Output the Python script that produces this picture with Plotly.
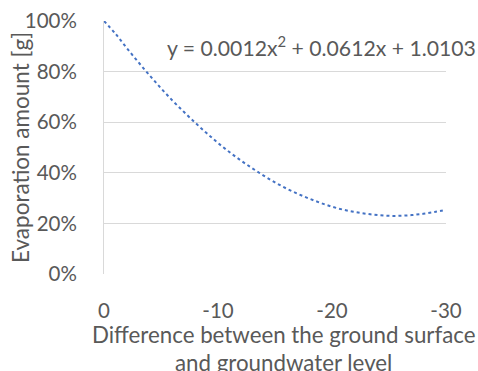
import plotly.graph_objects as go

# Trendline values (difference vs evaporation fraction)
diff = [0, -1, -2, -3, -4, -5, -6, -7, -8, -9, -10, -11, -12, -13, -14, -15,
        -16, -17, -18, -19, -20, -21, -22, -23, -24, -25, -26, -27, -28, -29, -30]
evap = [1.000, 0.950, 0.893, 0.838, 0.785, 0.734, 0.686, 0.641, 0.598, 0.557,
        0.518, 0.482, 0.449, 0.418, 0.389, 0.362, 0.338, 0.317, 0.298, 0.281,
        0.266, 0.254, 0.245, 0.238, 0.233, 0.230, 0.230, 0.233, 0.238, 0.245,
        0.254]
x_ticks = [0, -10, -20, -30]
y_ticks = [0, 0.2, 0.4, 0.6, 0.8, 1.0]
equation = "y = 0.0012x<sup>2</sup> + 0.0612x + 1.0103"
x_title_1 = "Difference between the ground surface"
x_title_2 = "and groundwater level"
y_title = "Evaporation amount [g]"

FONT = "Lato"
GREY = "#595959"

fig = go.Figure()
fig.add_trace(go.Scatter(
    x=diff, y=evap, mode="lines",
    line=dict(color="#4472C4", width=2, dash="dot", shape="spline"),
    showlegend=False, hoverinfo="skip",
))

fig.update_layout(
    width=478, height=371,
    margin=dict(l=104, r=32, t=21, b=97, autoexpand=False),
    paper_bgcolor="white", plot_bgcolor="white",
    font=dict(family=FONT, color=GREY, size=20),
    xaxis=dict(
        range=[0, -30], tickvals=x_ticks, ticktext=[str(v) for v in x_ticks],
        showgrid=False, zeroline=False, showline=False,
        ticks="outside", ticklen=18, tickcolor="rgba(0,0,0,0)",
        tickfont=dict(family=FONT, size=20.5, color=GREY),
    ),
    yaxis=dict(
        range=[0, 1.0], tickvals=y_ticks, tickformat=".0%",
        showgrid=True, gridcolor="#D9D9D9", gridwidth=1,
        zeroline=False, showline=True, linecolor="#D9D9D9", linewidth=1,
        ticks="outside", ticklen=22, tickcolor="rgba(0,0,0,0)",
        tickfont=dict(family=FONT, size=20.5, color=GREY),
    ),
    annotations=[
        dict(text=equation, xref="paper", yref="paper", x=(165 - 104) / 342,
             y=(274 - 47) / 253, xanchor="left", yanchor="middle",
             showarrow=False, font=dict(family=FONT, size=21.2, color=GREY)),
        dict(text=x_title_1, xref="paper", yref="paper", x=(283 - 104) / 342,
             y=(274 - 334) / 253, xanchor="center", yanchor="middle",
             showarrow=False, font=dict(family=FONT, size=22.3, color=GREY)),
        dict(text=x_title_2, xref="paper", yref="paper", x=(283 - 104) / 342,
             y=(274 - 362) / 253, xanchor="center", yanchor="middle",
             showarrow=False, font=dict(family=FONT, size=22.3, color=GREY)),
        dict(text=y_title, xref="paper", yref="paper", x=(20 - 104) / 342,
             y=(274 - 148) / 253, xanchor="center", yanchor="middle", textangle=-90,
             showarrow=False, font=dict(family=FONT, size=22.5, color=GREY)),
    ],
)

fig.write_html("out.html", config={"displayModeBar": False},
               post_script="document.body.style.margin='0px';")
